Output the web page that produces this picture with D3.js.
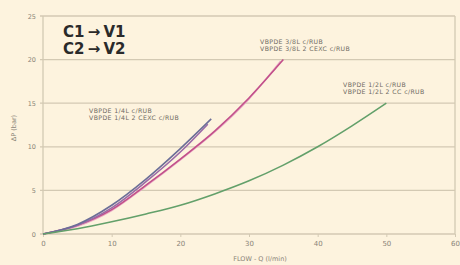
<!DOCTYPE html>
<html>
<head>
<meta charset="utf-8">
<script src="https://cdn.jsdelivr.net/npm/d3@7"></script>
<style>
  html, body { margin: 0; padding: 0; background: #fdf3de; }
  svg { display: block; }
</style>
</head>
<body>
<svg id="chart" width="460" height="265"></svg>
<script>
// values
const xTicks = [0, 10, 20, 30, 40, 50, 60];
const yTicks = [0, 5, 10, 15, 20, 25];

const flow14 = [0, 5, 10, 15, 20, 24.5];
const dp14 = [0, 1.1, 3.3, 6.3, 9.8, 13.2];
const flow14c = [0, 5, 10, 15, 20, 24];
const dp14c = [0, 1.0, 3.0, 6.0, 9.4, 12.6];
const flow38 = [0, 5, 10, 15, 20, 25, 30, 35];
const dp38 = [0, 1.0, 2.8, 5.6, 8.6, 11.8, 15.6, 20];
const flow38c = [0, 5, 10, 15, 20, 25, 30, 34.6];
const dp38c = [0, 0.9, 2.7, 5.5, 8.5, 11.7, 15.5, 19.8];
const flow12 = [0, 5, 10, 15, 20, 25, 30, 35, 40, 45, 50];
const dp12 = [0, 0.6, 1.4, 2.3, 3.3, 4.6, 6.1, 7.9, 10.0, 12.4, 15];

const seriesNames = [
  'VBPDE 1/4L c/RUB', 'VBPDE 1/4L 2 CEXC c/RUB',
  'VBPDE 3/8L c/RUB', 'VBPDE 3/8L 2 CEXC c/RUB',
  'VBPDE 1/2L c/RUB', 'VBPDE 1/2L 2 CC c/RUB'
];

const series = [
  { name: seriesNames[3], xs: flow38c, ys: dp38c, color: '#e8a8c4' },
  { name: seriesNames[2], xs: flow38, ys: dp38, color: '#c2508a' },
  { name: seriesNames[1], xs: flow14c, ys: dp14c, color: '#9a6aa8' },
  { name: seriesNames[0], xs: flow14, ys: dp14, color: '#6c6e98' },
  { name: seriesNames[4], xs: flow12, ys: dp12, color: '#63a06a' }
];

const margin = { top: 16, right: 5, bottom: 31, left: 43 };
const width = 460, height = 265;

const x = d3.scaleLinear().domain([0, 60]).range([margin.left, width - margin.right]);
const y = d3.scaleLinear().domain([0, 25]).range([height - margin.bottom, margin.top]);

const svg = d3.select('#chart');
const grid = '#d3c9b3';
const tickColor = '#8a8478';

// horizontal grid lines
svg.append('g')
  .selectAll('line')
  .data(yTicks)
  .join('line')
  .attr('x1', x(0) - 3)
  .attr('x2', x(60))
  .attr('y1', d => y(d))
  .attr('y2', d => y(d))
  .attr('stroke', grid)
  .attr('stroke-width', 1.3);

// frame
svg.append('line')
  .attr('x1', x(0)).attr('x2', x(0))
  .attr('y1', y(25)).attr('y2', y(0))
  .attr('stroke', grid).attr('stroke-width', 1.3);
svg.append('line')
  .attr('x1', x(60)).attr('x2', x(60))
  .attr('y1', y(25)).attr('y2', y(0))
  .attr('stroke', grid).attr('stroke-width', 1.3);

const xAxis = g => g
  .attr('transform', `translate(0,${y(0)})`)
  .call(d3.axisBottom(x).tickValues(xTicks).tickSize(3).tickPadding(4))
  .call(g => g.select('.domain').remove())
  .call(g => g.selectAll('line').attr('stroke', grid))
  .call(g => g.selectAll('text')
    .attr('fill', tickColor)
    .attr('font-size', 7)
    .attr('font-family', 'DejaVu Sans'));

const yAxis = g => g
  .attr('transform', `translate(${x(0)},0)`)
  .call(d3.axisLeft(y).tickValues(yTicks).tickSize(0).tickPadding(7))
  .call(g => g.select('.domain').remove())
  .call(g => g.selectAll('text')
    .attr('fill', tickColor)
    .attr('font-size', 6.5)
    .attr('font-family', 'DejaVu Sans'));

svg.append('g').call(xAxis);
svg.append('g').call(yAxis);

// axis titles
svg.append('text')
  .attr('x', 260).attr('y', 261)
  .attr('text-anchor', 'middle')
  .attr('fill', tickColor)
  .attr('font-size', 6.5)
  .attr('font-family', 'DejaVu Sans')
  .text('FLOW - Q (l/min)');

svg.append('text')
  .attr('transform', 'translate(16,128) rotate(-90)')
  .attr('text-anchor', 'middle')
  .attr('fill', tickColor)
  .attr('font-size', 6.5)
  .attr('font-family', 'DejaVu Sans')
  .text('ΔP (bar)');

// curves
const line = d3.line()
  .x(d => x(d[0]))
  .y(d => y(d[1]))
  .curve(d3.curveMonotoneX);

svg.append('g')
  .selectAll('path')
  .data(series)
  .join('path')
  .attr('fill', 'none')
  .attr('stroke', d => d.color)
  .attr('stroke-width', 1.6)
  .attr('d', d => line(d.xs.map((v, i) => [v, d.ys[i]])));

// curve labels
const labels = [
  { lines: [seriesNames[2], seriesNames[3]], x: 260, y: 44 },
  { lines: [seriesNames[0], seriesNames[1]], x: 89, y: 113 },
  { lines: [seriesNames[4], seriesNames[5]], x: 343, y: 87 }
];

const lab = svg.append('g')
  .attr('fill', '#6e6a62')
  .attr('font-size', 6.2)
  .attr('font-family', 'DejaVu Sans')
  .attr('letter-spacing', 0.4);

labels.forEach(l => {
  l.lines.forEach((t, i) => {
    lab.append('text')
      .attr('x', l.x)
      .attr('y', l.y + i * 7)
      .text(t);
  });
});

// title block
const title = svg.append('g')
  .attr('fill', '#2a2a2a')
  .attr('font-size', 15)
  .attr('font-weight', 'bold')
  .attr('font-family', 'DejaVu Sans')
  .attr('word-spacing', -2);
title.append('text').attr('x', 63).attr('y', 37).text('C1 → V1');
title.append('text').attr('x', 63).attr('y', 54).text('C2 → V2');
</script>
</body>
</html>
